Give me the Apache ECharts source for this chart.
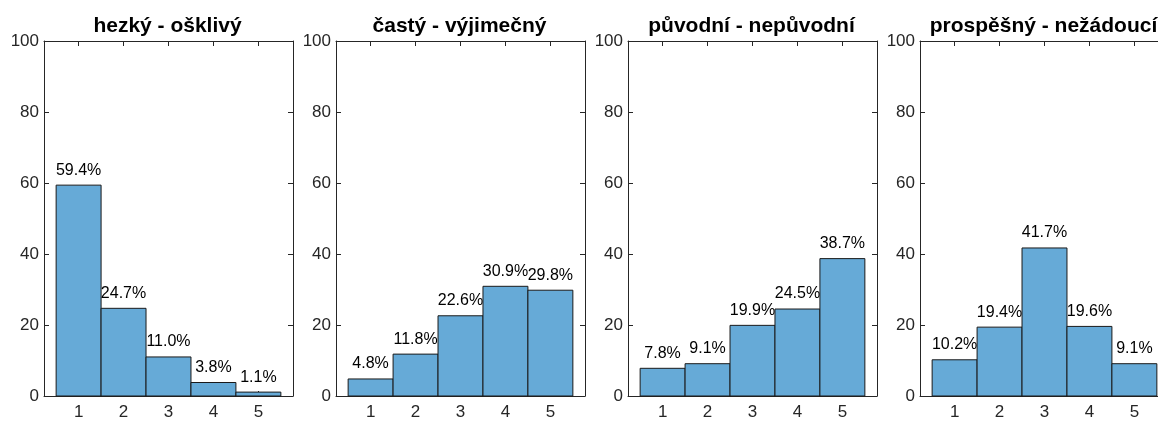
<!DOCTYPE html>
<html>
<head>
<meta charset="utf-8">
<script src="https://cdn.jsdelivr.net/npm/echarts@6/dist/echarts.min.js"></script>
<style>
  html, body { margin: 0; padding: 0; background: #fff; overflow: hidden; }
  #chart { width: 1200px; height: 421px; }
</style>
</head>
<body>
<div id="chart"></div>
<script>
// data
var titles = ['hezký - ošklivý', 'častý - výjimečný', 'původní - nepůvodní', 'prospěšný - nežádoucí'];
var categories = [1, 2, 3, 4, 5];
var hezky = [59.4, 24.7, 11.0, 3.8, 1.1];
var casty = [4.8, 11.8, 22.6, 30.9, 29.8];
var puvodni = [7.8, 9.1, 19.9, 24.5, 38.7];
var prospesny = [10.2, 19.4, 41.7, 19.6, 9.1];
var yTicks = [0, 20, 40, 60, 80, 100];

var panels = [hezky, casty, puvodni, prospesny];

var axisColor = '#262626';
var barColor = '#66aad7';
var font = 'Liberation Sans, Arial, sans-serif';

// subplot boxes (the 4th one runs past the right edge of the picture)
var lefts = [44, 336, 628, 920];
var gridW = 249, gridTop = 41, gridH = 355;

var grid = [], xAxis = [], yAxis = [], series = [], title = [];

lefts.forEach(function (l, i) {
  grid.push({ left: l, top: gridTop, width: gridW, height: gridH, containLabel: false });

  title.push({
    text: titles[i],
    left: l + gridW / 2 - 6,
    top: 11,
    textAlign: 'center',
    textStyle: { fontFamily: font, fontSize: 21, fontWeight: 'bold', color: '#000' }
  });

  // bottom x axis
  xAxis.push({
    type: 'value', gridIndex: i, min: 0.23, max: 5.77, position: 'bottom',
    splitLine: { show: false },
    axisLine: { show: true, onZero: false, lineStyle: { color: axisColor, width: 1 } },
    axisTick: { show: true, inside: true, length: 5, customValues: categories, lineStyle: { color: axisColor } },
    axisLabel: { show: true, customValues: categories, margin: 8, fontFamily: font, fontSize: 17, color: axisColor }
  });
  // top x axis (box + ticks)
  xAxis.push({
    type: 'value', gridIndex: i, min: 0.23, max: 5.77, position: 'top',
    splitLine: { show: false },
    axisLine: { show: true, onZero: false, lineStyle: { color: axisColor, width: 1 } },
    axisTick: { show: true, inside: true, length: 5, customValues: categories, lineStyle: { color: axisColor } },
    axisLabel: { show: false }
  });
  // left y axis
  yAxis.push({
    type: 'value', gridIndex: i, min: 0, max: 100, interval: 20, position: 'left',
    splitLine: { show: false },
    axisLine: { show: true, onZero: false, lineStyle: { color: axisColor, width: 1 } },
    axisTick: { show: true, inside: true, length: 5, lineStyle: { color: axisColor } },
    axisLabel: { show: true, margin: 5, fontFamily: font, fontSize: 17, color: axisColor }
  });
  // right y axis
  yAxis.push({
    type: 'value', gridIndex: i, min: 0, max: 100, interval: 20, position: 'right',
    splitLine: { show: false },
    axisLine: { show: true, onZero: false, lineStyle: { color: axisColor, width: 1 } },
    axisTick: { show: true, inside: true, length: 5, lineStyle: { color: axisColor } },
    axisLabel: { show: false }
  });

  var values = panels[i];
  series.push({
    type: 'custom',
    xAxisIndex: i * 2,
    yAxisIndex: i * 2,
    clip: false,
    data: categories.map(function (c, k) { return [c, values[k]]; }),
    renderItem: function (params, api) {
      var x = api.value(0), y = api.value(1);
      var p0 = api.coord([x - 0.5, y]);
      var p1 = api.coord([x + 0.5, 0]);
      return {
        type: 'group',
        children: [{
          type: 'rect',
          shape: { x: p0[0], y: p0[1], width: p1[0] - p0[0], height: p1[1] - p0[1] },
          style: { fill: barColor, stroke: '#1a1a1a', lineWidth: 1 }
        }, {
          type: 'text',
          x: (p0[0] + p1[0]) / 2,
          y: p0[1] - 7,
          style: {
            text: y.toFixed(1) + '%',
            fill: '#000',
            font: '16px ' + font,
            align: 'center',
            verticalAlign: 'bottom'
          }
        }]
      };
    }
  });
});

var chart = echarts.init(document.getElementById('chart'), null, { renderer: 'canvas' });
chart.setOption({
  animation: false,
  backgroundColor: '#fff',
  title: title,
  grid: grid,
  xAxis: xAxis,
  yAxis: yAxis,
  series: series
});
</script>
</body>
</html>
